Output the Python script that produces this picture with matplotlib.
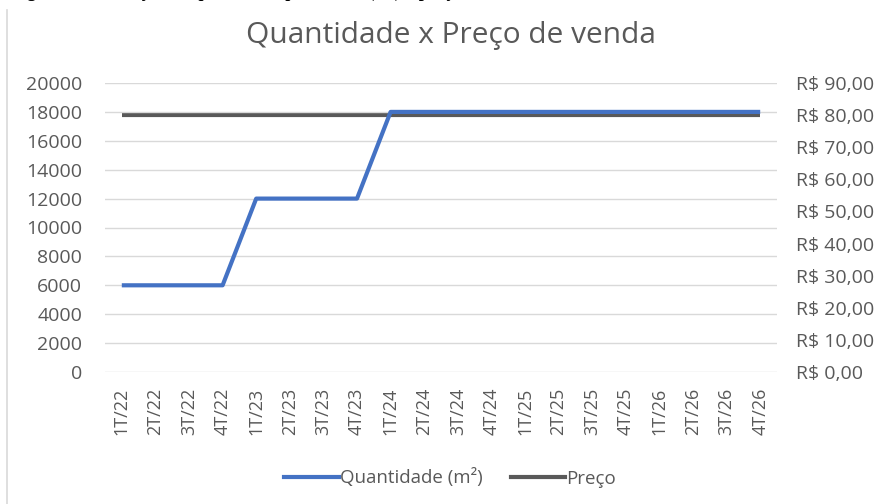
import matplotlib
matplotlib.use("Agg")

import matplotlib.pyplot as plt
from matplotlib.lines import Line2D

# dados do gráfico
trimestres = [
    "1T/22", "2T/22", "3T/22", "4T/22",
    "1T/23", "2T/23", "3T/23", "4T/23",
    "1T/24", "2T/24", "3T/24", "4T/24",
    "1T/25", "2T/25", "3T/25", "4T/25",
    "1T/26", "2T/26", "3T/26", "4T/26",
]
quantidade = [6000] * 4 + [12000] * 4 + [18000] * 12
preco = [80.0] * 20

ticks_qtd = list(range(0, 20001, 2000))
ticks_preco = list(range(0, 91, 10))

AZUL = "#4472C4"
CINZA = "#595959"
GRADE = "#d9d9d9"
TEXTO = "#595959"

plt.rcParams["font.family"] = ["Open Sans", "DejaVu Sans"]

fig = plt.figure(figsize=(8.81, 5.04), dpi=100)
W, H = 881, 504

# legenda da figura, cortada no topo (só aparecem as descendentes)
fig.text(
    0.012, 1 + 3 / H,
    "Figura 9 – Evolução da quantidade produzida (m²) x preço de venda",
    family="Liberation Serif", fontweight="bold", fontsize=13, color="black",
    va="baseline", ha="left",
)
# borda esquerda do quadro
fig.add_artist(Line2D([7 / W, 7 / W], [0, 1 - 10 / H], color=GRADE, lw=1.2))

ax = fig.add_axes([105 / W, 1 - 372 / H, 672 / W, 289 / H])
x = range(len(trimestres))

ax.plot(x, quantidade, color=AZUL, lw=3.0, solid_capstyle="butt", zorder=3)
ax.set_xlim(-0.5, len(trimestres) - 0.5)
ax.set_ylim(0, 20000)
ax.set_yticks(ticks_qtd)
ax.set_yticklabels([str(t) for t in ticks_qtd])
ax.grid(axis="y", color=GRADE, lw=1)
ax.set_axisbelow(True)
for s in ax.spines.values():
    s.set_visible(False)
ax.tick_params(axis="y", length=0, pad=16.5, labelsize=14, labelcolor=TEXTO)
ax.set_xticks(list(x))
ax.set_xticklabels(trimestres, rotation=90)
ax.tick_params(axis="x", length=0, pad=11, labelsize=13, labelcolor=TEXTO)

ax2 = ax.twinx()
ax2.plot(x, preco, color=CINZA, lw=3.0, solid_capstyle="butt", zorder=2)
ax2.set_ylim(0, 90)
ax2.set_yticks(ticks_preco)
ax2.set_yticklabels([f"R$ {t},00" for t in ticks_preco])
for s in ax2.spines.values():
    s.set_visible(False)
ax2.tick_params(axis="y", length=0, pad=14, labelsize=14, labelcolor=TEXTO)
ax.set_zorder(ax2.get_zorder() + 1)
ax.patch.set_visible(False)

fig.text(451 / W, 1 - 36 / H, "Quantidade x Preço de venda",
         ha="center", va="center", fontsize=21.5, color=TEXTO)

handles = [
    Line2D([], [], color=AZUL, lw=3),
    Line2D([], [], color=CINZA, lw=3),
]
fig.legend(handles, ["Quantidade (m²)", "Preço"], loc="center",
           bbox_to_anchor=(450 / W, 1 - 478 / H), ncol=2, frameon=False,
           fontsize=13.5, labelcolor=TEXTO, handlelength=2.9, handletextpad=0.05,
           columnspacing=1.5)

fig.savefig("out.png", dpi=100)
